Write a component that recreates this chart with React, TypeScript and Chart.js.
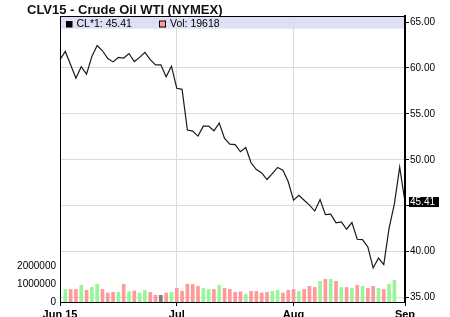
import { useEffect, useRef } from "react";
import { Chart, registerables } from "chart.js";
Chart.register(...registerables);

const chartTitle = "CLV15 - Crude Oil WTI (NYMEX)";
const priceLegend = "CL*1: 45.41";
const volumeLegend = "Vol: 19618";

const dates = [
  "2015-06-01", "2015-06-02", "2015-06-03", "2015-06-04", "2015-06-05",
  "2015-06-08", "2015-06-09", "2015-06-10", "2015-06-11", "2015-06-12",
  "2015-06-15", "2015-06-16", "2015-06-17", "2015-06-18", "2015-06-19",
  "2015-06-22", "2015-06-23", "2015-06-24", "2015-06-25", "2015-06-26",
  "2015-06-29", "2015-06-30",
  "2015-07-01", "2015-07-02", "2015-07-06", "2015-07-07", "2015-07-08",
  "2015-07-09", "2015-07-10", "2015-07-13", "2015-07-14", "2015-07-15",
  "2015-07-16", "2015-07-17", "2015-07-20", "2015-07-21", "2015-07-22",
  "2015-07-23", "2015-07-24", "2015-07-27", "2015-07-28", "2015-07-29",
  "2015-07-30", "2015-07-31",
  "2015-08-03", "2015-08-04", "2015-08-05", "2015-08-06", "2015-08-07",
  "2015-08-10", "2015-08-11", "2015-08-12", "2015-08-13", "2015-08-14",
  "2015-08-17", "2015-08-18", "2015-08-19", "2015-08-20", "2015-08-21",
  "2015-08-24", "2015-08-25", "2015-08-26", "2015-08-27", "2015-08-28",
  "2015-08-31",
  "2015-09-01",
];

const xTickDates = ["2015-06-01", "2015-07-01", "2015-08-03", "2015-09-01"];
const xTickText = ["Jun 15", "Jul", "Aug", "Sep"];

const prices = [
  60.9, 61.8, 60.35, 58.87, 60.13, 59.32, 61.26, 62.44, 61.87, 61.02,
  60.66, 61.14, 61.08, 61.57, 60.7, 61.15, 61.7, 60.9, 60.34, 60.34,
  59.03, 60.19,
  57.79, 57.67, 53.24, 53.13, 52.58, 53.67, 53.67, 53.16, 54.0, 52.33,
  51.71, 51.65, 50.88, 51.35, 49.68, 48.95, 48.58, 47.86, 48.51, 49.17,
  48.88, 47.61,
  45.61, 46.15, 45.61, 45.07, 44.43, 45.68, 44.03, 44.08, 43.14, 43.25,
  42.45, 43.18, 41.36, 41.33, 40.52, 38.24, 39.31, 38.6, 42.56, 45.22,
  49.2,
  45.41,
];

const volumes = [
  null, 700000, 700000, 700000, 930000, 650000, 810000, 990000, 700000, 500000,
  540000, 540000, 990000, 570000, 610000, 500000, 650000, 540000, 370000, 370000,
  500000, 540000,
  760000, 600000, 990000, 970000, 870000, 760000, 700000, 700000, 930000, 760000,
  700000, 540000, 570000, 430000, 590000, 590000, 500000, 540000, 590000, 650000,
  500000, 650000,
  700000, 590000, 700000, 870000, 810000, 1150000, 1260000, 1260000, 1150000, 810000,
  810000, 760000, 930000, 870000, 760000, 870000, 760000, 700000, 980000, 1200000,
  null,
  null,
];

const volumeDirection = [
  null, "up", "down", "down", "up", "down", "up", "up", "down", "down",
  "down", "up", "down", "up", "down", "up", "up", "down", "down", "flat",
  "down", "up",
  "down", "down", "down", "down", "down", "up", "up", "down", "up", "down",
  "down", "down", "down", "up", "down", "down", "down", "down", "up", "up",
  "down", "down",
  "down", "up", "down", "down", "down", "up", "down", "up", "down", "up",
  "down", "up", "down", "up", "down", "down", "up", "down", "up", "up",
  null,
  null,
];

const priceTicks = [35, 40, 45, 50, 55, 60, 65];
const volumeTicks = [0, 1000000, 2000000];
const lastPrice = 45.41;

const directionColors: Record<string, string> = {
  up: "#99f599",
  down: "#ff9a9a",
  flat: "#7f7f7f",
};

const FONT = 'Arial, "Liberation Sans", Helvetica, sans-serif';

export default function App() {
  const ref = useRef<HTMLCanvasElement>(null);

  useEffect(() => {
    document.body.style.margin = "0";
    Chart.defaults.font.family = FONT;

    const framePlugin = {
      id: "framePlugin",
      beforeDraw(chart: any) {
        const { ctx, chartArea: a } = chart;
        ctx.save();
        ctx.fillStyle = "#ffffff";
        ctx.fillRect(0, 0, chart.width, chart.height);
        ctx.fillStyle = "#dfdff8";
        ctx.fillRect(a.left, a.top, a.right - a.left, 12.7);
        ctx.restore();
      },
      afterDatasetsDraw(chart: any) {
        const { ctx, chartArea: a } = chart;
        ctx.save();
        ctx.strokeStyle = "#000";
        ctx.lineWidth = 1;
        ctx.strokeRect(a.left + 0.5, a.top + 0.5, a.right - a.left - 1, a.bottom - a.top);
        ctx.lineWidth = 2;
        ctx.beginPath();
        ctx.moveTo(a.right, a.top);
        ctx.lineTo(a.right, a.bottom + 1);
        ctx.stroke();
        ctx.restore();
      },
      afterDraw(chart: any) {
        const { ctx, chartArea: a } = chart;
        ctx.save();
        // title
        ctx.fillStyle = "#111";
        ctx.font = `bold 13px ${FONT}`;
        ctx.textBaseline = "alphabetic";
        ctx.textAlign = "left";
        ctx.fillText(chartTitle, 27, 14);
        // legend
        ctx.font = `10.5px ${FONT}`;
        ctx.textBaseline = "middle";
        ctx.fillStyle = "#000";
        ctx.fillRect(a.left + 6, a.top + 5, 6.5, 6.5);
        ctx.fillText(priceLegend, a.left + 16.5, a.top + 8.5);
        ctx.fillStyle = directionColors.down;
        ctx.fillRect(a.left + 99.5, a.top + 5, 6, 6);
        ctx.strokeStyle = "#000";
        ctx.lineWidth = 1;
        ctx.strokeRect(a.left + 99.5, a.top + 5, 6, 6);
        ctx.fillStyle = "#000";
        ctx.fillText(volumeLegend, a.left + 110, a.top + 8.5);
        // last price box
        const yScale = chart.scales.yPrice;
        const y = yScale.getPixelForValue(lastPrice);
        ctx.fillStyle = "#000";
        ctx.fillRect(a.right + 4, y - 5, 30, 10);
        ctx.fillStyle = "#fff";
        ctx.font = `10px ${FONT}`;
        ctx.fillText(lastPrice.toFixed(2), a.right + 5, y + 0.5);
        ctx.restore();
      },
    };

    const chart = new Chart(ref.current as HTMLCanvasElement, {
      type: "line",
      data: {
        labels: dates,
        datasets: [
          {
            type: "line",
            label: "CL*1",
            data: prices,
            yAxisID: "yPrice",
            borderColor: "#1a1a1a",
            borderWidth: 1.2,
            pointRadius: 0,
            tension: 0,
            order: 0,
          } as any,
          {
            type: "bar",
            label: "Vol",
            data: volumes,
            yAxisID: "yVol",
            backgroundColor: volumeDirection.map((d) => (d ? directionColors[d] : "transparent")),
            barThickness: 3,
            order: 1,
          } as any,
        ],
      },
      plugins: [framePlugin],
      options: {
        responsive: false,
        animation: false,
        devicePixelRatio: 1,
        layout: { padding: { top: 16, left: 0, right: 0, bottom: 0 } },
        plugins: {
          legend: { display: false },
          tooltip: { enabled: false },
          title: { display: false },
        },
        scales: {
          x: {
            type: "category",
            position: "bottom",
            offset: false,
            grid: {
              offset: false,
              color: "#dcdcdc",
              tickLength: 4,
              tickColor: "#000",
            },
            border: { color: "#000" },
            ticks: {
              autoSkip: false,
              maxRotation: 0,
              padding: 2,
              color: "#000",
              font: { size: 11, weight: "bold" },
              callback: (_v: any, i: number) => {
                const k = xTickDates.indexOf(dates[i]);
                return k >= 0 ? xTickText[k] : null;
              },
            },
            afterFit: (s: any) => {
              s.height = 15;
            },
          },
          yPrice: {
            type: "linear",
            position: "right",
            min: 34.532,
            max: 65.653,
            afterBuildTicks: (s: any) => {
              s.ticks = priceTicks.map((v) => ({ value: v }));
            },
            grid: { color: "#dcdcdc", tickLength: 4, tickColor: "#000" },
            border: { color: "#000", width: 2 },
            ticks: {
              padding: 1,
              color: "#000",
              font: { size: 10 },
              callback: (v: any) => (Math.abs(Number(v) - lastPrice) < 1 ? "" : Number(v).toFixed(2)),
            },
            afterFit: (s: any) => {
              s.width = 45;
            },
          },
          yVol: {
            type: "linear",
            position: "left",
            min: 0,
            max: 15900000,
            afterBuildTicks: (s: any) => {
              s.ticks = volumeTicks.map((v) => ({ value: v }));
            },
            grid: { display: false, drawTicks: false },
            border: { color: "#000" },
            ticks: {
              padding: 4,
              color: "#000",
              font: { size: 10 },
              callback: (v: any) => String(v),
            },
            afterFit: (s: any) => {
              s.width = 60;
            },
          },
        } as any,
      },
    });
    return () => chart.destroy();
  }, []);

  return (
    <div style={{ width: 450, height: 317 }}>
      <canvas ref={ref} width={450} height={317} style={{ display: "block" }} />
    </div>
  );
}
